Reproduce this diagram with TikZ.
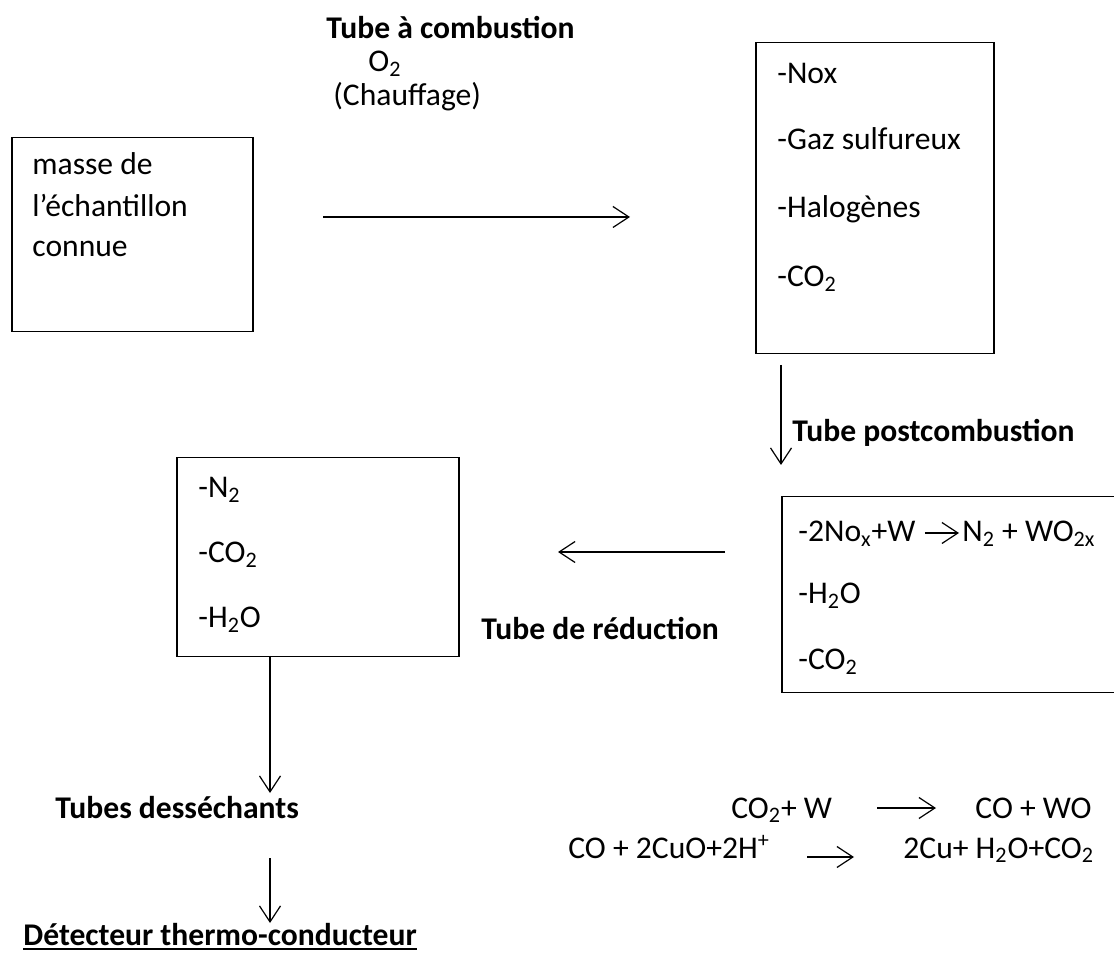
\documentclass[tikz,border=0pt]{standalone}
\usepackage{fontspec}
\setmainfont{Carlito}
\usepackage{tikz}
\usetikzlibrary{arrows.meta, positioning, calc}

% soulignement epais
\newcommand{\souligne}[1]{\leavevmode\setbox0\hbox{#1}\rlap{\rule[-0.17em]{\wd0}{0.08em}}\box0}

\begin{document}
\begin{tikzpicture}[
    x=0.5pt, y=-0.5pt,
    font=\fontsize{15.8}{19}\selectfont,
    boite/.style={draw, line width=0.75pt, anchor=north west, inner sep=0pt},
    ligne/.style={anchor=base west, inner sep=0pt},
    titre/.style={ligne, font=\fontsize{15.8}{19}\selectfont\bfseries},
    fleche/.style={-{Straight Barb[length=8pt, width=10.5pt]}, line width=0.6pt}
  ]
    \useasboundingbox (0,0) rectangle (1114,956);
    \clip (0,0) rectangle (1114,956);

    % boites
    \node[boite, minimum width=120.5pt, minimum height=97pt] (echant) at (11,137) {};
    \node[boite, minimum width=119pt, minimum height=155.5pt] (gaz) at (755,42) {};
    \node[boite, minimum width=174.5pt, minimum height=98pt] (postcomb) at (781,496) {};
    \node[boite, minimum width=141pt, minimum height=99.5pt] (reduit) at (176,457) {};

    % textes des boites
    \node[ligne] (masse) at (32,175) {masse de};
    \node[ligne] (masse2) at (32,217) {l’échantillon};
    \node[ligne] (masse3) at (32,257) {connue};

    \node[ligne] (nox) at (777,84) {-Nox};
    \node[ligne] (soufre) at (777,150) {-Gaz sulfureux};
    \node[ligne] (halo) at (777,218) {-Halogènes};
    \node[ligne] (co2a) at (777,287) {-CO\textsubscript{2}};

    \node[ligne] (reac) at (798,542) {-2No\textsubscript{x}+W};
    \node[ligne] (prod) at (962,542) {N\textsubscript{2} + WO\textsubscript{2x}};
    \node[ligne] (h2oa) at (798,604) {-H\textsubscript{2}O};
    \node[ligne] (co2b) at (798,670) {-CO\textsubscript{2}};

    \node[ligne] (n2) at (198,498) {-N\textsubscript{2}};
    \node[ligne] (co2c) at (198,563) {-CO\textsubscript{2}};
    \node[ligne] (h2ob) at (198,628) {-H\textsubscript{2}O};

    % titres
    \node[titre] (combustion) at (326,39) {Tube à combustion};
    \node[ligne] (oxy) at (368,72) {O\textsubscript{2}};
    \node[ligne] (chauffe) at (333,106) {(Chauffage)};
    \node[titre] (postlab) at (792,442) {Tube postcombustion};
    \node[titre] (redlab) at (481,640) {Tube de réduction};
    \node[titre] (dessech) at (55,818) {Tubes desséchants};
    \node[titre] (detect) at (23,945) {\souligne{Détecteur thermo-conducteur}};

    % equations
    \node[ligne] (eq1g) at (731,818) {CO\textsubscript{2}+ W};
    \node[ligne] (eq1d) at (975,818) {CO + WO};
    \node[ligne] (eq2g) at (568,858) {CO + 2CuO+2H\textsuperscript{+}};
    \node[ligne] (eq2d) at (903,858) {2Cu+ H\textsubscript{2}O+CO\textsubscript{2}};

    % fleches
    \coordinate (a1) at (323,217);
    \coordinate (b1) at (630,217);
    \coordinate (a2) at (781,365);
    \coordinate (b2) at (781,465);
    \coordinate (a3) at (725,552);
    \coordinate (b3) at (558,552);
    \coordinate (a4) at (270,656);
    \coordinate (b4) at (270,793);
    \coordinate (a5) at (270,858);
    \coordinate (b5) at (270,923);

    \draw[fleche] (a1) -- (b1);
    \draw[fleche] (a2) -- (b2);
    \draw[fleche] (a3) -- (b3);
    \draw[fleche] (a4) -- (b4);
    \draw[fleche] (a5) -- (b5);

    \draw[fleche] ($(reac.base east)+(9,-9)$) -- ($(prod.base west)+(-3,-9)$);
    \draw[fleche] ($(eq1d.base west)+(-98,-10)$) -- ($(eq1d.base west)+(-39,-10)$);
    \draw[fleche] ($(eq2d.base west)+(-96,-1)$) -- ($(eq2d.base west)+(-49,-1)$);
  \end{tikzpicture}
\end{document}
